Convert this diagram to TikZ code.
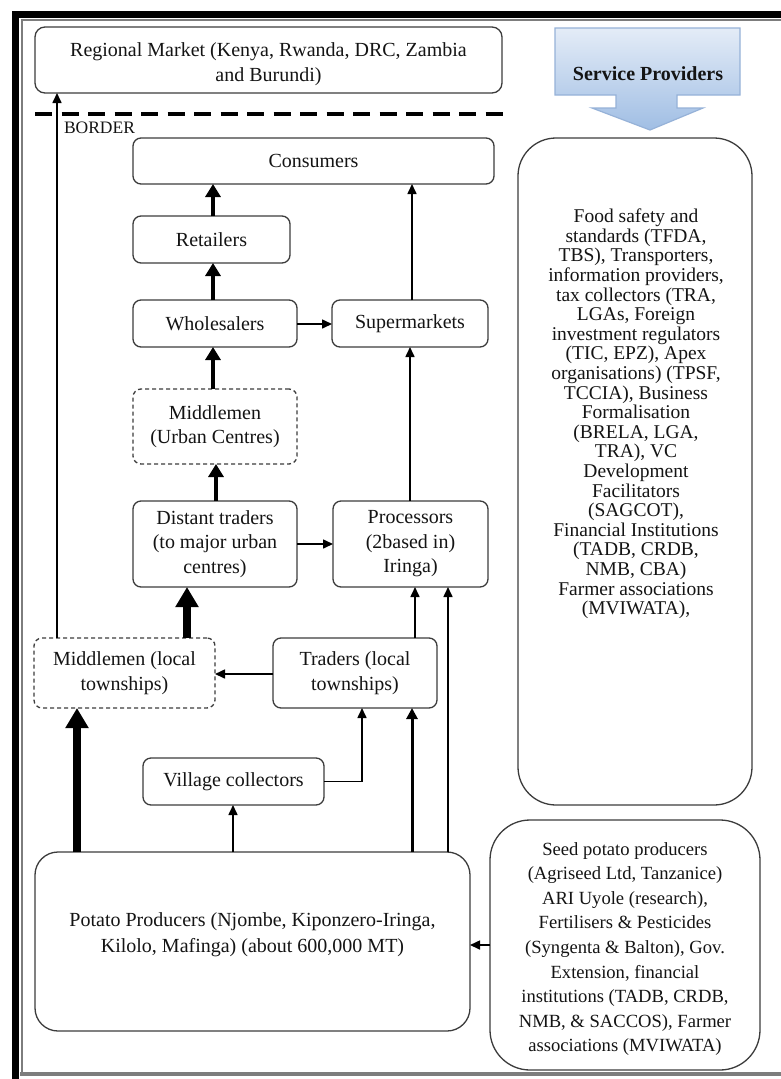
\documentclass[tikz,border=0pt]{standalone}
\usepackage{fontspec}
\setmainfont{Liberation Serif}
\usetikzlibrary{arrows.meta}
\definecolor{boxc}{RGB}{60,60,60}
\definecolor{txt}{RGB}{20,20,20}
\definecolor{gframe}{RGB}{125,125,125}
\definecolor{spTop}{RGB}{228,236,247}
\definecolor{spBot}{RGB}{160,190,228}
\definecolor{spEdge}{RGB}{150,178,216}
\begin{document}
\begin{tikzpicture}[x=1pt,y=-1pt,
  every node/.style={inner sep=0pt, outer sep=0pt},
  box/.style={draw=boxc, line width=1.3pt, rounded corners=8pt, align=center,
    font=\fontsize{20}{24.5}\selectfont, text=txt},
  dbox/.style={box, dash pattern=on 4pt off 3pt},
  plaintext/.style={align=center, text=txt},
  thinarrow/.style={draw=black, line width=1.6pt, -{Triangle[length=10pt,width=9pt]}},
  medarrow/.style={draw=black, line width=3pt, -{Triangle[length=11pt,width=11pt]}},
  boldarrow/.style={draw=black, line width=4.5pt, -{Triangle[length=13pt,width=15pt]}},
  heavyarrow/.style={draw=black, line width=8pt, -{Triangle[length=20pt,width=22pt]}},
]
\useasboundingbox (0,0) rectangle (781,1079);
\fill[white] (0,0) rectangle (781,1079);

% frame
\fill[black] (12,11) rectangle (781,18);
\fill[black] (12,11) rectangle (19,1079);
\draw[gframe, line width=2pt] (21,19.5) -- (781,19.5);
\draw[gframe, line width=2pt] (21.5,19) -- (21.5,1076);
\fill[gframe] (20,1072) rectangle (781,1076);

% regional market and border
\node[box, rounded corners=10pt, minimum width=467pt, minimum height=66pt] (reg) at (268.5,60) {};
\node[plaintext, font=\fontsize{20}{25}\selectfont] (regtext) at (268.5,64)
  {Regional Market (Kenya, Rwanda, DRC, Zambia\\and Burundi)};
\coordinate (bl) at (35,114);
\coordinate (br) at (503,114);
\draw[line width=4pt, dash pattern=on 17pt off 9.5pt] (bl) -- (br);
\node[anchor=west, font=\fontsize{17.5}{20}\selectfont, text=txt] (border) at (64,128) {BORDER};

% service providers arrow
\shade[top color=spTop, bottom color=spBot, draw=spEdge, line width=1.2pt]
  (555,28) -- (740,28) -- (740,95) -- (677,95) -- (677,108) -- (703,108) -- (650,130)
  -- (592,108) -- (616,108) -- (616,95) -- (555,95) -- cycle;
\node[font=\bfseries\fontsize{20}{24}\selectfont, text=txt] (sptitle) at (648,74) {Service Providers};

\node[box, rounded corners=38pt, minimum width=234pt, minimum height=667pt] (sp) at (635,471.5) {};
\node[plaintext, font=\fontsize{19.5}{19.6}\selectfont] (sptext) at (636,414)
  {Food safety and\\standards (TFDA,\\TBS), Transporters,\\information providers,\\tax collectors (TRA,\\LGAs, Foreign\\investment regulators\\(TIC, EPZ), Apex\\organisations) (TPSF,\\TCCIA), Business\\Formalisation\\(BRELA, LGA,\\TRA), VC\\Development\\Facilitators\\(SAGCOT),\\Financial Institutions\\(TADB, CRDB,\\NMB, CBA)\\Farmer associations\\(MVIWATA),};

% chain nodes
\node[box, minimum width=361pt, minimum height=46pt] (cons) at (313.5,161) {Consumers};
\node[box, minimum width=157pt, minimum height=47pt] (ret) at (211.5,239.5) {Retailers};
\node[box, minimum width=164pt, minimum height=47pt] (whole) at (215,323.5) {Wholesalers};
\node[box, minimum width=156pt, minimum height=47pt] (super) at (410,323.5) {Supermarkets};
\node[dbox, minimum width=164pt, minimum height=75pt] (mu) at (215,426.5) {Middlemen\\(Urban Centres)};
\node[box, minimum width=164pt, minimum height=86pt] (dist) at (215,544) {Distant traders\\(to major urban\\centres)};
\node[box, minimum width=155pt, minimum height=86pt] (proc) at (410.5,544) {Processors\\(2based in)\\Iringa)};
\node[dbox, minimum width=181pt, minimum height=70pt] (ml) at (124.5,673) {Middlemen (local\\townships)};
\node[box, minimum width=164pt, minimum height=70pt] (tl) at (355,673) {Traders (local\\townships)};
\node[box, minimum width=181pt, minimum height=47pt] (vc) at (233.5,781.5) {Village collectors};
\node[box, rounded corners=23pt, minimum width=435pt, minimum height=179pt] (pp) at (252.5,941.5) {};
\node[plaintext, font=\fontsize{20}{26}\selectfont] (pptext) at (252.5,935)
  {Potato Producers (Njombe, Kiponzero-Iringa,\\Kilolo, Mafinga) (about 600,000 MT)};
\node[box, rounded corners=40pt, minimum width=270pt, minimum height=250pt] (seed) at (625,945) {};
\node[plaintext, font=\fontsize{18.6}{24.6}\selectfont] (seedtext) at (625,949)
  {Seed potato producers\\(Agriseed Ltd, Tanzanice)\\ARI Uyole (research),\\Fertilisers \& Pesticides\\(Syngenta \& Balton), Gov.\\Extension, financial\\institutions (TADB, CRDB,\\NMB, \& SACCOS), Farmer\\associations (MVIWATA)};

% connectors
\draw[heavyarrow] (77,0 |- pp.north) -- (77,0 |- ml.south);
\draw[thinarrow] (233,0 |- pp.north) -- (233,0 |- vc.south);
\draw[medarrow] (412,0 |- pp.north) -- (412,0 |- tl.south);
\draw[thinarrow] (448,0 |- pp.north) -- (448,0 |- proc.south);
\draw[thinarrow] (vc.east) -- (362,0 |- vc.east) -- (362,0 |- tl.south);
\draw[thinarrow] (tl.west |- 0,674) -- (ml.east |- 0,674);
\draw[thinarrow] (415,0 |- tl.north) -- (415,0 |- proc.south);
\draw[heavyarrow] (187,0 |- ml.north) -- (187,0 |- dist.south);
\draw[boldarrow] (216,0 |- dist.north) -- (216,0 |- mu.south);
\draw[thinarrow] (dist.east |- 0,544) -- (proc.west |- 0,544);
\draw[thinarrow] (410,0 |- proc.north) -- (410,0 |- super.south);
\draw[boldarrow] (213,0 |- mu.north) -- (213,0 |- whole.south);
\draw[thinarrow] (whole.east |- 0,324) -- (super.west |- 0,324);
\draw[boldarrow] (213,0 |- whole.north) -- (213,0 |- ret.south);
\draw[boldarrow] (213,0 |- ret.north) -- (213,0 |- cons.south);
\draw[thinarrow] (412,0 |- super.north) -- (412,0 |- cons.south);
\draw[thinarrow] (seed.west |- 0,945) -- (pp.east |- 0,945);
\draw[thinarrow] (57,0 |- ml.north) -- (57,0 |- reg.south);
\end{tikzpicture}
\end{document}
